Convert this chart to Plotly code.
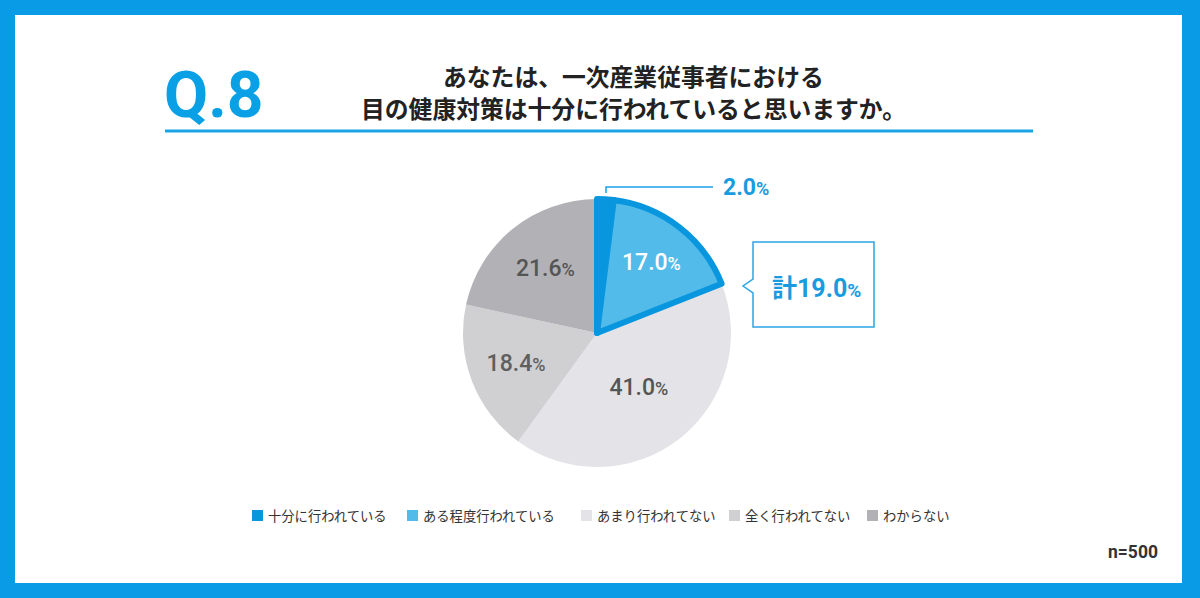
import plotly.graph_objects as go

# ---------------- data ----------------
categories = ["十分に行われている", "ある程度行われている", "あまり行われてない", "全く行われてない", "わからない"]
values = [2.0, 17.0, 41.0, 18.4, 21.6]
colors = ["#0896de", "#52bbea", "#e4e4e8", "#d0d0d3", "#b2b1b5"]
label_colors = ["#ffffff", "#ffffff", "#555555", "#5f5f5f", "#555555"]
total_label = "計"
n_label = "n=500"
title_q = "Q.8"
title_lines = ["あなたは、一次産業従事者における", "目の健康対策は十分に行われていると思いますか。"]

W, H = 1200, 598
BLUE = "#0a9be6"
JP = "Noto Sans CJK JP"


def px(x):
    return x / W


def py(y):
    return 1 - y / H


def pct(v, small):
    return f"{v:.1f}<span style='font-size:{small}px'>%</span>"


# draw order: gray slices first, highlighted blue slices last (so their outline stays on top)
order = [2, 3, 4, 0, 1]
start_angle = sum(values[:2]) / sum(values) * 360  # first drawn slice starts where the blue group ends

pie_vals = [values[i] for i in order]
pie_labels = [categories[i] for i in order]
pie_colors = [colors[i] for i in order]
pie_text = ["" if i == 0 else pct(values[i], 18) for i in order]
pie_textcolors = [label_colors[i] for i in order]
line_w = [6 if i in (0, 1) else 0 for i in order]
line_c = [colors[0] if i in (0, 1) else "rgba(0,0,0,0)" for i in order]

cx, cy, r = 597, 333, 134
fig = go.Figure()
fig.add_trace(go.Pie(
    values=pie_vals,
    labels=pie_labels,
    text=pie_text,
    textinfo="text",
    texttemplate="%{text}",
    textposition="inside",
    insidetextorientation="horizontal",
    textfont=dict(family="Roboto, " + JP, size=23, color=pie_textcolors, weight=500),
    marker=dict(colors=pie_colors, line=dict(color=line_c, width=line_w)),
    sort=False,
    direction="clockwise",
    rotation=start_angle,
    hoverinfo="skip",
    showlegend=False,
    domain=dict(x=[px(cx - r), px(cx + r)], y=[py(cy + r), py(cy - r)]),
))

shapes = []
annotations = []

# blue frame
for x0, y0, x1, y1 in [(0, 0, 15, H), (1182, 0, W, H), (0, 0, W, 15), (0, 583, W, H)]:
    shapes.append(dict(type="rect", xref="paper", yref="paper",
                       x0=px(x0), x1=px(x1), y0=py(y1), y1=py(y0),
                       fillcolor=BLUE, line=dict(width=0), layer="above"))

# title underline
shapes.append(dict(type="line", xref="paper", yref="paper",
                   x0=px(165), x1=px(1033), y0=py(131), y1=py(131),
                   line=dict(color="#1aa3e6", width=3)))

annotations.append(dict(text=f"<b>{title_q}</b>", xref="paper", yref="paper",
                        x=px(162), y=py(95), xanchor="left", yanchor="middle",
                        showarrow=False,
                        font=dict(family="Roboto, Arial", size=64, color="#0aa0e6")))
for i, line in enumerate(title_lines):
    annotations.append(dict(text=f"<b>{line}</b>", xref="paper", yref="paper",
                            x=px(633), y=py(75 + 32 * i), xanchor="center", yanchor="middle",
                            showarrow=False,
                            font=dict(family=JP, size=23.8, color="#222222")))

# 2.0% callout
shapes.append(dict(type="path", xref="paper", yref="paper",
                   path=f"M {px(606)},{py(193)} L {px(606)},{py(187)} L {px(713)},{py(187)}",
                   line=dict(color="#1aa0e6", width=1.5)))
annotations.append(dict(text="<b>" + pct(values[0], 18) + "</b>", xref="paper", yref="paper",
                        x=px(721), y=py(187), xanchor="left", yanchor="middle", showarrow=False,
                        font=dict(family="Roboto, " + JP, size=23, color="#1a9be0")))

# total callout box
bx0, by0, bx1, by1 = 753, 242, 874, 327
shapes.append(dict(type="path", xref="paper", yref="paper",
                   path=(f"M {px(bx0)},{py(by0)} L {px(bx1)},{py(by0)} L {px(bx1)},{py(by1)} "
                         f"L {px(bx0)},{py(by1)} L {px(bx0)},{py(293)} L {px(743)},{py(286)} "
                         f"L {px(bx0)},{py(279)} Z"),
                   fillcolor="white", line=dict(color="#2aa5e5", width=1.5)))
annotations.append(dict(text=f"<b>{total_label}{sum(values[:2]):.1f}<span style='font-size:19px'>%</span></b>",
                        xref="paper", yref="paper",
                        x=px(816), y=py(288), xanchor="center", yanchor="middle", showarrow=False,
                        font=dict(family="Roboto, " + JP, size=25, color="#1a9be0")))

# legend (manual)
leg_x = [252, 407, 581, 729, 867]
for i, (cat, col) in enumerate(zip(categories, colors)):
    x0 = leg_x[i]
    shapes.append(dict(type="rect", xref="paper", yref="paper",
                       x0=px(x0), x1=px(x0 + 11), y0=py(521), y1=py(510),
                       fillcolor=col, line=dict(width=0)))
    annotations.append(dict(text=cat, xref="paper", yref="paper",
                            x=px(x0 + 14), y=py(515.5), xanchor="left", yanchor="middle",
                            showarrow=False,
                            font=dict(family=JP, size=13.3, color="#333333")))

annotations.append(dict(text=f"<b>{n_label}</b>", xref="paper", yref="paper",
                        x=px(1160), y=py(552), xanchor="right", yanchor="middle", showarrow=False,
                        font=dict(family="Roboto, Arial", size=17.5, color="#333333")))

fig.update_layout(
    width=W, height=H,
    margin=dict(l=0, r=0, t=0, b=0),
    paper_bgcolor="white",
    plot_bgcolor="white",
    shapes=shapes,
    annotations=annotations,
    showlegend=False,
)

fig.write_html("out.html", config={"displayModeBar": False})
